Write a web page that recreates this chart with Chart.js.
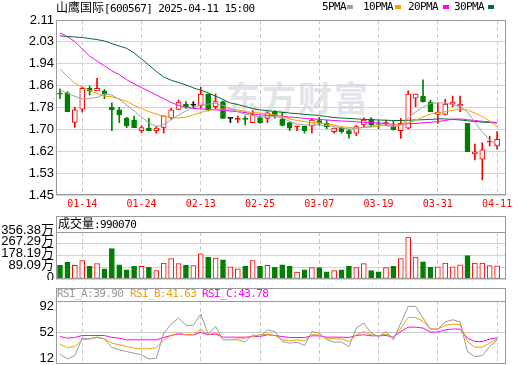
<!DOCTYPE html>
<html><head><meta charset="utf-8">
<script src="https://cdn.jsdelivr.net/npm/chart.js@4.4.1/dist/chart.umd.min.js"></script>
<style>
html,body{margin:0;padding:0;background:#fff}
body{width:520px;height:365px;position:relative;overflow:hidden}
canvas{position:absolute;left:0;z-index:2}
.t{position:absolute;white-space:nowrap;z-index:3;line-height:14px;color:#000}
.m{font-family:'DejaVu Sans Mono','Liberation Mono',monospace;font-size:11px;letter-spacing:-0.6px}
.k{font-family:'Noto Sans CJK SC',sans-serif;font-size:12px}
.box{position:absolute;left:56px;width:450px;box-sizing:border-box;border:1px solid #999;border-bottom:none;z-index:1}
.sw{position:absolute;width:6px;height:4px;top:5px;z-index:3}
#wm{position:absolute;left:226px;top:76px;font:bold 34px 'Noto Sans CJK SC',sans-serif;color:#e3e3ea;z-index:0;letter-spacing:2px;line-height:42px}
</style></head><body>
<div id="wm">东方财富</div>
<div class="t" style="left:56px;top:0px"><span class="k">山鹰国际</span><span class="m">[600567] 2025-04-11 15:00</span></div>
<div class="t m" style="left:322px;top:0px">5PMA</div><div class="sw" style="left:347px;background:#a0a0a0"></div>
<div class="t m" style="left:363px;top:0px">10PMA</div><div class="sw" style="left:395px;background:#f5a000"></div>
<div class="t m" style="left:408px;top:0px">20PMA</div><div class="sw" style="left:443px;background:#ff00ff"></div>
<div class="t m" style="left:454px;top:0px">30PMA</div><div class="sw" style="left:488px;background:#006b32"></div>
<canvas id="c1" width="520" height="216" style="top:0px"></canvas>
<div class="box" style="top:216px;height:17px"></div>
<div class="t" style="left:58px;top:216px"><span class="k">成交量</span><span class="m" id="volTxt"></span></div>
<canvas id="c2" width="520" height="64" style="top:216px"></canvas>
<div class="box" style="top:288px;height:14px"></div>
<div class="t m" id="rA" style="left:57px;top:287px;color:#999"></div>
<div class="t m" id="rB" style="left:130px;top:287px;color:#f0a000"></div>
<div class="t m" id="rC" style="left:202px;top:287px;color:#ff00ff"></div>
<canvas id="c3" width="520" height="77" style="top:288px"></canvas>
<script>
const dates = ['01-09','01-10','01-13','01-14','01-15','01-16','01-17','01-20','01-21','01-22','01-23','01-24','01-27',
'02-05','02-06','02-07','02-10','02-11','02-12','02-13','02-14','02-17','02-18','02-19','02-20','02-21','02-24','02-25','02-26','02-27','02-28',
'03-03','03-04','03-05','03-06','03-07','03-10','03-11','03-12','03-13','03-14','03-17','03-18','03-19','03-20','03-21','03-24','03-25','03-26','03-27','03-28','03-31',
'04-01','04-02','04-03','04-07','04-08','04-09','04-10','04-11'];
const xTickIdx = [3,11,19,27,35,43,51,59];

const open  = [1.832,1.834,1.724,1.774,1.852,1.843,1.842,1.781,1.771,1.739,1.733,1.693,1.702,1.693,1.705,1.742,1.773,1.793,1.789,1.786,1.831,1.783,1.802,1.739,1.735,1.739,1.723,1.742,1.739,1.764,1.736,1.723,1.707,1.710,1.710,1.731,1.720,1.689,1.702,1.693,1.683,1.714,1.736,1.719,1.718,1.710,1.693,1.702,1.815,1.823,1.800,1.754,1.754,1.793,1.786,1.720,1.605,1.585,1.650,1.635];
const close = [1.830,1.764,1.771,1.852,1.843,1.852,1.831,1.772,1.752,1.711,1.704,1.704,1.693,1.702,1.749,1.771,1.800,1.783,1.789,1.831,1.771,1.802,1.739,1.739,1.737,1.735,1.752,1.723,1.760,1.748,1.712,1.702,1.710,1.693,1.733,1.721,1.708,1.702,1.689,1.680,1.708,1.733,1.714,1.716,1.723,1.695,1.720,1.831,1.831,1.802,1.764,1.762,1.793,1.800,1.793,1.613,1.613,1.620,1.652,1.660];
const high  = [1.850,1.840,1.781,1.857,1.861,1.890,1.848,1.798,1.781,1.743,1.748,1.711,1.739,1.710,1.749,1.777,1.808,1.802,1.802,1.856,1.831,1.831,1.804,1.739,1.748,1.748,1.768,1.748,1.764,1.768,1.762,1.725,1.710,1.710,1.739,1.743,1.731,1.702,1.706,1.698,1.712,1.741,1.742,1.730,1.733,1.729,1.739,1.843,1.831,1.884,1.808,1.798,1.811,1.823,1.823,1.720,1.642,1.647,1.672,1.689];
const low   = [1.813,1.764,1.705,1.763,1.827,1.843,1.813,1.693,1.723,1.704,1.704,1.685,1.693,1.683,1.683,1.736,1.773,1.777,1.777,1.777,1.767,1.773,1.739,1.723,1.723,1.714,1.723,1.720,1.723,1.740,1.710,1.693,1.693,1.683,1.683,1.714,1.700,1.683,1.683,1.664,1.674,1.708,1.708,1.700,1.714,1.695,1.664,1.700,1.783,1.800,1.764,1.720,1.752,1.783,1.764,1.613,1.582,1.507,1.635,1.623];

const ma5  = [1.846,1.833,1.822,1.812,1.814,1.818,1.831,1.827,1.810,1.789,1.767,1.744,1.722,1.708,1.716,1.733,1.752,1.767,1.782,1.789,1.793,1.795,1.788,1.774,1.765,1.755,1.750,1.744,1.744,1.746,1.742,1.727,1.718,1.714,1.714,1.714,1.712,1.708,1.703,1.699,1.700,1.705,1.710,1.716,1.712,1.707,1.713,1.740,1.763,1.782,1.795,1.797,1.797,1.791,1.784,1.763,1.725,1.688,1.657,1.636];
const ma10 = [1.925,1.897,1.872,1.857,1.844,1.833,1.823,1.820,1.812,1.803,1.788,1.776,1.765,1.755,1.748,1.742,1.740,1.744,1.752,1.761,1.769,1.773,1.774,1.774,1.771,1.765,1.761,1.759,1.756,1.752,1.746,1.737,1.731,1.727,1.723,1.722,1.718,1.714,1.708,1.705,1.703,1.705,1.706,1.710,1.712,1.714,1.716,1.722,1.731,1.744,1.755,1.761,1.764,1.769,1.774,1.771,1.759,1.746,1.729,1.708];
const ma20 = [2.061,2.047,2.029,2.001,1.974,1.955,1.937,1.918,1.904,1.885,1.869,1.855,1.841,1.827,1.813,1.799,1.788,1.781,1.777,1.774,1.773,1.771,1.769,1.767,1.764,1.761,1.756,1.752,1.750,1.749,1.747,1.744,1.742,1.739,1.737,1.735,1.733,1.731,1.729,1.728,1.726,1.724,1.723,1.722,1.719,1.716,1.717,1.719,1.720,1.722,1.724,1.727,1.731,1.736,1.737,1.734,1.731,1.728,1.726,1.723];
const ma30 = [2.050,2.048,2.046,2.044,2.040,2.036,2.031,2.021,2.012,2.003,1.986,1.963,1.940,1.916,1.895,1.883,1.874,1.865,1.854,1.845,1.835,1.823,1.810,1.797,1.791,1.784,1.776,1.771,1.768,1.765,1.762,1.759,1.757,1.754,1.752,1.750,1.746,1.742,1.740,1.739,1.737,1.735,1.734,1.733,1.732,1.731,1.731,1.732,1.733,1.734,1.735,1.737,1.737,1.735,1.733,1.730,1.727,1.725,1.723,1.722];

const volume = [103,126,103,139,96,116,78,230,108,70,96,96,88,63,121,154,116,103,101,190,164,159,146,93,78,96,139,96,103,88,108,96,53,70,86,86,55,63,70,96,86,116,63,55,86,96,154,318,167,131,88,93,121,93,108,177,121,121,101,99.007];

const rsiA = [18.2,10.9,16,43.2,42.1,44.8,42.1,28.5,25,22.3,19.7,17.1,10.9,12,51,65,74.4,63,63,80.7,49.5,61.4,40.6,40.6,40.6,37,48.4,45.7,56.2,53.5,37.9,35.4,37,31.7,53.5,51,40.6,37,37,30.1,58.8,66.7,51,45.7,53.5,40.6,66.7,92.6,92.6,74.4,57.3,57.3,68.2,71.8,68.2,22.3,14.5,16,30.1,39.90];
const rsiB = [33.8,28.5,30.1,40.6,42.1,44.2,42.1,35.4,32.8,30.1,27.6,26.5,26.5,28.5,40.6,47.3,51,48.4,48.4,57.3,48.4,52,44.2,44.2,43.2,43.2,45.7,48.4,49.5,47.3,40.6,39,40.6,39,48.4,48.4,42.1,42.1,42.1,37.9,48.4,53.5,48.4,46.8,49.5,44.2,58.8,75.4,75.4,69.2,57.3,57.3,63,65,64,37.9,29.1,29.1,35.4,41.63];
const rsiC = [45.7,43.2,44.2,47.3,47.3,47.3,47.3,44.2,43.2,40.6,40.6,40.6,40.6,40.6,44.2,47.3,49.5,48.4,48.4,52,48.4,49.5,44.7,44.7,44.7,44.7,45.7,45.7,48.4,47.3,45.7,44.2,44.2,44.2,46.8,46.8,44.7,44.7,44.7,44.2,47.3,48.4,46.8,46.8,47.3,44.7,53.5,60.3,60.3,58.8,52.6,52.6,56.2,57.3,57.3,43.2,37.9,37.9,41.6,43.78];

const priceTickVals   = [1.45,1.5325,1.615,1.6975,1.78,1.8625,1.945,2.0275,2.11];
const priceTickLabels = ['1.45','1.53','1.62','1.70','1.78','1.86','1.94','2.03','2.11'];
const volTickVals   = [0,89.095,178.19,267.285,356.38];
const volTickLabels = ['0','89.09万','178.19万','267.29万','356.38万'];
const rsiTickVals = [12,52,92];

// header texts from data
const last = volume.length - 1;
document.getElementById('volTxt').textContent = ':' + Math.round(volume[last]*10000);
document.getElementById('rA').textContent = 'RSI_A:' + rsiA[last].toFixed(2);
document.getElementById('rB').textContent = 'RSI_B:' + rsiB[last].toFixed(2);
document.getElementById('rC').textContent = 'RSI_C:' + rsiC[last].toFixed(2);

const UP='#ff0000', DN='#008000', EQ='#000000';
const dirOf = i => close[i]>open[i]?1:(close[i]<open[i]?-1:0);
const cColor = dates.map((d,i)=>dirOf(i)>0?UP:dirOf(i)<0?DN:EQ);
const bFill = dates.map((d,i)=>(dirOf(i)>0 && Math.abs(close[i]-open[i])>0.004)?'#ffffff':cColor[i]);
const vColor = dates.map((d,i)=>dirOf(i)<0?DN:UP);
const vFill = dates.map((d,i)=>dirOf(i)<0?DN:'#ffffff');

const X_MIN=-0.54, X_MAX=60.2;
const FONT_NUM = "'Liberation Sans','Noto Sans CJK SC',sans-serif";
const frame = {id:'frame', afterDraw(c){const a=c.chartArea,ctx=c.ctx;ctx.save();ctx.strokeStyle='#999';ctx.lineWidth=1;
  ctx.strokeRect(Math.round(a.left)+0.5,Math.round(a.top)+0.5,Math.round(a.right-a.left)-1,Math.round(a.bottom-a.top)-1);ctx.restore();}};
function noPad(s){s.paddingTop=0;s.paddingBottom=0;s.paddingLeft=0;s.paddingRight=0;}
function xScale(show){
  return {type:'linear',min:X_MIN,max:X_MAX,offset:false,
    afterBuildTicks:s=>{s.ticks=xTickIdx.map(v=>({value:v}));},
    afterFit:s=>{s.height=show?21:0;noPad(s);},
    grid:{color:'#c8c8c8',drawTicks:false,lineWidth:1,offset:false},
    border:{display:false,dash:[4,3]},
    ticks:{display:show,color:'#ff0000',font:{family:"'DejaVu Sans Mono',monospace",size:10},padding:3,maxRotation:0,autoSkip:false,callback:v=>dates[v]}};
}
function yScale(min,max,vals,labelFn,gridColor,labelOffset){
  return {min:min,max:max,
    afterBuildTicks:s=>{s.ticks=vals.map(v=>({value:v}));},
    afterFit:s=>{s.width=56;noPad(s);},
    grid:{color:gridColor,drawTicks:false,lineWidth:1},
    border:{display:false},
    ticks:{color:'#000',font:{family:FONT_NUM,size:13},padding:2,labelOffset:labelOffset||0,autoSkip:false,callback:labelFn}};
}
const baseOpts = (pad)=>({responsive:false,animation:false,events:[],layout:{padding:pad},
  plugins:{legend:{display:false},tooltip:{enabled:false},title:{display:false}}});

const pts = arr => arr.map((v,i)=>({x:i,y:v}));
const lineDs = (arr,color)=>({type:'line',data:pts(arr),borderColor:color,borderWidth:1,pointRadius:0,tension:0,fill:false,order:0});

// main price chart
new Chart(document.getElementById('c1'),{
  type:'bar',
  data:{datasets:[
    {data:dates.map((d,i)=>({x:i,y:[low[i],high[i]]})),backgroundColor:cColor,borderWidth:0,barThickness:1,grouped:false,order:2},
    {data:dates.map((d,i)=>({x:i,y:[open[i],close[i]]})),backgroundColor:bFill,borderColor:cColor,borderWidth:1,borderSkipped:false,barThickness:5,minBarLength:1,grouped:false,order:1},
    lineDs(ma5,'#a0a0a0'),lineDs(ma10,'#f5a000'),lineDs(ma20,'#ff00ff'),lineDs(ma30,'#006b32')
  ]},
  options:Object.assign(baseOpts({top:20,right:14,left:0,bottom:0}),{
    scales:{x:xScale(true),
      y:yScale(1.45,2.11,priceTickVals,(v,i)=>priceTickLabels[i],'#d4d4d4',0)}}),
  plugins:[frame]
});

// volume chart
new Chart(document.getElementById('c2'),{
  type:'bar',
  data:{datasets:[
    {data:dates.map((d,i)=>({x:i,y:volume[i]})),backgroundColor:vFill,borderColor:vColor,borderWidth:1,borderSkipped:false,barThickness:5,grouped:false}
  ]},
  options:Object.assign(baseOpts({top:16,right:14,left:0,bottom:1}),{
    scales:{x:xScale(false),
      y:yScale(0,356.38,volTickVals,(v,i)=>volTickLabels[i],'#d4d4d4',-2)}}),
  plugins:[frame]
});

// RSI chart
new Chart(document.getElementById('c3'),{
  type:'line',
  data:{datasets:[lineDs(rsiA,'#999999'),lineDs(rsiB,'#f0a000'),lineDs(rsiC,'#ff00ff')]},
  options:Object.assign(baseOpts({top:13,right:14,left:0,bottom:1}),{
    scales:{x:xScale(false),
      y:Object.assign(yScale(3,100.9,rsiTickVals,v=>String(v),'#d4d4d4',0),
        {grid:{drawTicks:false,lineWidth:1,color:ctx=>(ctx.tick && ctx.tick.value===52)?'#cccccc':'rgba(0,0,0,0)'}})}}),
  plugins:[frame]
});
</script>
</body></html>
